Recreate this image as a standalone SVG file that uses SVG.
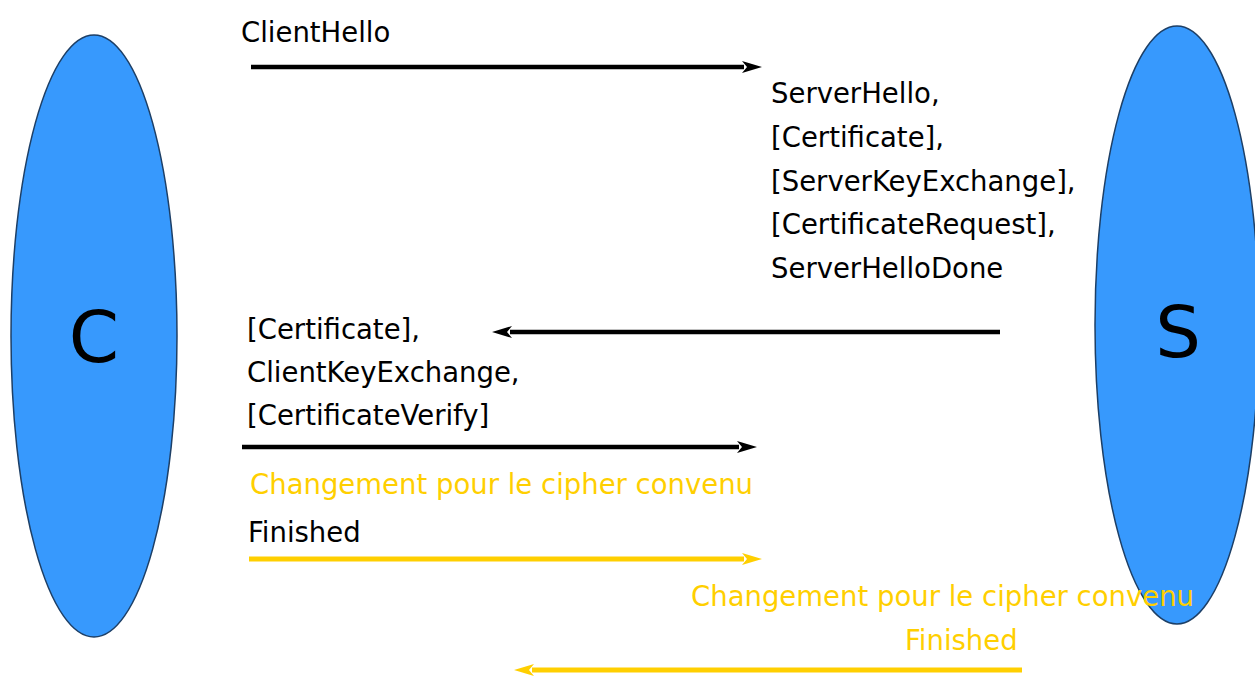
<svg xmlns="http://www.w3.org/2000/svg" width="1255" height="677" viewBox="0 0 1255 677">
<style>
.node{fill:#3799fd;stroke:#1d3f66;stroke-width:1.5}
.big{font-family:"DejaVu Sans",sans-serif;font-size:72px;fill:#000}
.t{font-family:"DejaVu Sans",sans-serif;font-size:27.5px;fill:#000}
.y{fill:#ffcf00}
.ab{stroke:#000;stroke-width:4.5;fill:none}
.ay{stroke:#ffcf00;stroke-width:5;fill:none}
</style>
<defs>
<marker id="hb" viewBox="0 0 20 12" refX="2" refY="6" markerWidth="20" markerHeight="12" markerUnits="userSpaceOnUse" orient="auto">
<path d="M0,0 L20,6 L0,12 L5,6 Z" fill="#000"/>
</marker>
<marker id="hy" viewBox="0 0 20 12" refX="2" refY="6" markerWidth="20" markerHeight="12" markerUnits="userSpaceOnUse" orient="auto">
<path d="M0,0 L20,6 L0,12 L5,6 Z" fill="#ffcf00"/>
</marker>
</defs>
<rect width="1255" height="677" fill="#fff"/>
<g id="client">
<ellipse class="node" cx="94" cy="336" rx="83" ry="301"/>
<text class="big" x="94" y="362" text-anchor="middle">C</text>
</g>
<g id="server">
<ellipse class="node" cx="1177" cy="325" rx="82" ry="299"/>
<text class="big" x="1178" y="357" text-anchor="middle">S</text>
</g>
<g id="connectors">
<line class="ab" x1="251" y1="67" x2="744" y2="67" marker-end="url(#hb)"/>
<line class="ab" x1="1000" y1="332" x2="510" y2="332" marker-end="url(#hb)"/>
<line class="ab" x1="242" y1="447" x2="739" y2="447" marker-end="url(#hb)"/>
<line class="ay" x1="249" y1="559" x2="744" y2="559" marker-end="url(#hy)"/>
<line class="ay" x1="1022" y1="670" x2="532" y2="670" marker-end="url(#hy)"/>
</g>
<g id="labels">
<text class="t" x="241" y="42">ClientHello</text>
<text class="t" x="771" y="103">ServerHello,</text>
<text class="t" x="771" y="147">[Certificate],</text>
<text class="t" x="771" y="191">[ServerKeyExchange],</text>
<text class="t" x="771" y="234">[CertificateRequest],</text>
<text class="t" x="771" y="278">ServerHelloDone</text>
<text class="t" x="247" y="339">[Certificate],</text>
<text class="t" x="247" y="382">ClientKeyExchange,</text>
<text class="t" x="247" y="425">[CertificateVerify]</text>
<text class="t y" x="250" y="494">Changement pour le cipher convenu</text>
<text class="t" x="248" y="542">Finished</text>
<text class="t y" x="691" y="606">Changement pour le cipher convenu</text>
<text class="t y" x="905" y="650">Finished</text>
</g>
</svg>
